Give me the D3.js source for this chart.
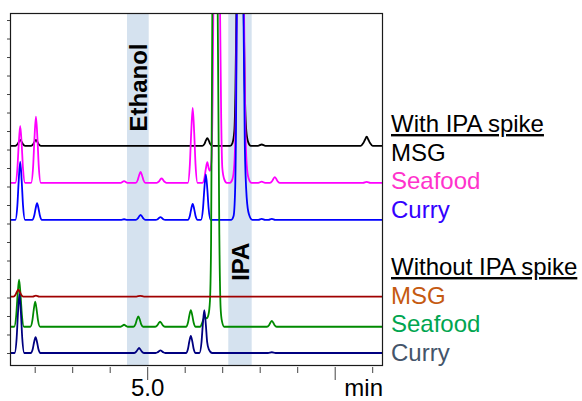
<!DOCTYPE html>
<html><head><meta charset="utf-8">
<script src="https://cdn.jsdelivr.net/npm/d3@7"></script>
<style>
html,body{margin:0;padding:0;background:#fff;}
svg{display:block;font-family:Arial,"Liberation Sans",sans-serif;}
</style></head>
<body>
<svg id="chart" width="582" height="401"></svg>
<script>
// ---------- DATA (time in min, signal in arbitrary units above each trace baseline) ----------
const groupTitles = ["With IPA spike", "Without IPA spike"];
const sampleNames = ["MSG", "Seafood", "Curry"];
const bandNames = ["Ethanol", "IPA"];
const bandRanges = [[4.448, 5.027], [7.149, 7.773]];
const xTickValues = [2, 3, 4, 5, 6, 7, 8, 9, 10, 11];
const xMajorTicks = [5, 10];
const xTickLabels = {5: "5.0"};
const xAxisTitle = "min";
const yTickValues = d3.range(0, 181, 10);
const traceOffsets = [112, 92, 72, 30.5, 14.2, 0];

const msgWith = [[1.33,0],
 [1.47,0],[1.525,0.8],[1.56,2.1],[1.60,3.2],[1.64,2.1],[1.675,0.8],[1.73,0],
 [1.89,0],[1.945,0.8],[1.98,2.1],[2.02,3.2],[2.06,2.1],[2.095,0.8],[2.15,0],
 [6.46,0],[6.515,1.05],[6.55,2.8],[6.59,4.2],[6.63,2.8],[6.665,1.05],[6.72,0],
 [7.20,0],[7.26,1.5],[7.31,8],[7.34,30],[7.365,72],[7.46,420],[7.56,72],[7.59,30],[7.63,8],[7.68,2],[7.75,0],
 [7.94,0],[8.04,0.7],[8.14,0],
 [10.68,0],[10.75,1.5],[10.795,3.3],[10.84,4.9],[10.885,3.3],[10.93,1.5],[11.0,0],[11.28,0]];

const seafoodWith = [[1.33,0],
 [1.47,0],[1.525,7.7],[1.56,20.6],[1.60,30.8],[1.64,20.6],[1.675,7.7],[1.73,0],
 [1.89,0],[1.945,8.9],[1.98,23.9],[2.02,35.7],[2.06,23.9],[2.095,8.9],[2.15,0],
 [4.28,0],[4.37,0.9],[4.46,0],
 [4.68,0],[4.735,1.5],[4.77,4],[4.81,5.9],[4.85,4],[4.885,1.5],[4.94,0],
 [5.24,0],[5.295,0.6],[5.33,1.6],[5.37,2.4],[5.41,1.6],[5.445,0.6],[5.50,0],
 [6.07,0],[6.125,10.1],[6.16,27.1],[6.20,40.5],[6.24,27.1],[6.275,10.1],[6.33,0],
 [6.46,0],[6.515,2.8],[6.55,7.5],[6.59,11.2],[6.63,7.5],[6.66,6.5],[6.70,12],[6.73,45],[6.75,92],[6.84,450],[6.93,92],[6.96,35],[6.99,8],[7.04,2],[7.11,0],
 [7.19,0],[7.26,2],[7.31,10],[7.35,40],[7.375,92],[7.46,450],[7.57,92],[7.60,35],[7.64,10],[7.69,2.5],[7.77,0],
 [7.95,0],[8.04,0.6],[8.13,0],
 [8.26,0],[8.315,0.8],[8.35,2.1],[8.39,3.1],[8.43,2.1],[8.465,0.8],[8.52,0],
 [10.74,0],[10.84,0.5],[10.94,0],[11.28,0]];

const curryWith = [[1.33,0],
 [1.47,0],[1.525,7.9],[1.56,21],[1.60,31.4],[1.64,21],[1.675,7.9],[1.73,0],
 [1.92,0],[1.975,2.3],[2.01,6],[2.05,9],[2.09,6],[2.125,2.3],[2.18,0],
 [4.28,0],[4.37,0.3],[4.46,0],
 [4.68,0],[4.735,0.7],[4.77,1.8],[4.81,2.7],[4.85,1.8],[4.885,0.7],[4.94,0],
 [5.21,0],[5.265,0.35],[5.30,0.95],[5.34,1.4],[5.38,0.95],[5.415,0.35],[5.47,0],
 [6.07,0],[6.125,2.2],[6.16,5.8],[6.20,8.6],[6.24,5.8],[6.275,2.2],[6.33,0],
 [6.42,0],[6.475,6.2],[6.51,16.5],[6.55,24.6],[6.59,16.5],[6.625,6.2],[6.68,0],
 [7.23,0],[7.29,2],[7.33,15],[7.355,50],[7.375,112],[7.46,450],[7.555,112],[7.59,40],[7.64,12],[7.70,3],[7.79,0],
 [7.95,0],[8.04,0.5],[8.13,0],[8.22,0],[8.31,0.5],[8.40,0],[11.28,0]];

const msgWithout = [[1.33,0],
 [1.42,0],[1.475,1],[1.51,2.5],[1.55,3.8],[1.59,2.5],[1.625,1],[1.68,0],
 [1.93,0],[2.02,0.5],[2.11,0],
 [4.70,0],[4.80,0.4],[4.90,0],[11.28,0]];

const seafoodWithout = [[1.33,0],
 [1.44,0],[1.495,6.4],[1.53,17],[1.57,25.4],[1.61,17],[1.645,6.4],[1.70,0],
 [1.87,0],[1.925,3.4],[1.96,9],[2.00,13.5],[2.04,9],[2.075,3.4],[2.13,0],
 [4.27,0],[4.33,0.6],[4.37,1.1],[4.41,0.6],[4.47,0],
 [4.62,0],[4.675,1.4],[4.71,3.75],[4.75,5.6],[4.79,3.75],[4.825,1.4],[4.88,0],
 [5.20,0],[5.255,0.7],[5.29,1.8],[5.33,2.7],[5.37,1.8],[5.405,0.7],[5.46,0],
 [6.02,0],[6.075,2.3],[6.11,6],[6.15,9],[6.19,6],[6.225,2.3],[6.28,0],
 [6.40,0],[6.46,2.5],[6.52,5.4],[6.57,4.5],[6.62,6.5],[6.66,14],[6.69,45],[6.723,170],[6.80,520],[6.867,170],[6.91,50],[6.945,10],[6.98,3],[7.04,0],
 [8.18,0],[8.235,0.8],[8.27,2.1],[8.31,3.2],[8.35,2.1],[8.385,0.8],[8.44,0],[11.28,0]];

const curryWithout = [[1.33,0],
 [1.45,0],[1.505,8],[1.54,21.4],[1.58,32],[1.62,21.4],[1.655,8],[1.71,0],
 [1.88,0],[1.935,2.2],[1.97,5.8],[2.01,8.6],[2.05,5.8],[2.085,2.2],[2.14,0],
 [4.64,0],[4.695,0.7],[4.73,1.8],[4.77,2.7],[4.81,1.8],[4.845,0.7],[4.90,0],
 [5.21,0],[5.265,0.35],[5.30,0.95],[5.34,1.4],[5.38,0.95],[5.415,0.35],[5.47,0],
 [6.02,0],[6.075,2.3],[6.11,6.2],[6.15,9.2],[6.19,6.2],[6.225,2.3],[6.28,0],
 [6.38,0],[6.435,5.8],[6.47,15.5],[6.51,23.2],[6.55,15.5],[6.585,6],[6.63,2],[6.72,0],
 [8.21,0],[8.31,0.4],[8.41,0],[11.28,0]];

const traces = [msgWith, seafoodWith, curryWith, msgWithout, seafoodWithout, curryWithout];

// ---------- STYLES ----------
const lineColors = ["#000000", "#ff00ff", "#0000ff", "#a00000", "#008a00", "#000080"];
const labelColors = ["#000000", "#ff33cc", "#3300ff", "#c55a11", "#00a550", "#44546a"];
const drawOrder = [0, 1, 2, 4, 3, 5];
const bandLabelY = [87.5, 261.7];

// ---------- LAYOUT ----------
const plot = {left: 10, right: 383, top: 13, bottom: 366};
const svg = d3.select("#chart");
const x = d3.scaleLinear().domain([1.328, 11.275]).range([plot.left, plot.right]);
const y = d3.scaleLinear().domain([-7.03, 183.8]).range([plot.bottom, plot.top]);

svg.append("defs").append("clipPath").attr("id", "clip")
  .append("rect").attr("x", plot.left).attr("y", plot.top)
  .attr("width", plot.right - plot.left).attr("height", plot.bottom - plot.top);

// bands
svg.append("g").selectAll("rect").data(bandRanges).join("rect")
  .attr("x", d => x(d[0])).attr("width", d => x(d[1]) - x(d[0]))
  .attr("y", plot.top).attr("height", plot.bottom - plot.top)
  .attr("fill", "#d5e2ef");

// traces
const line = d3.line().curve(d3.curveMonotoneX);
const gT = svg.append("g").attr("clip-path", "url(#clip)");
drawOrder.forEach(i => {
  const off = traceOffsets[i];
  gT.append("path")
    .attr("d", line(traces[i].map(p => [x(p[0]), y(p[1] + off)])))
    .attr("fill", "none").attr("stroke", lineColors[i])
    .attr("stroke-width", 1.8).attr("stroke-linejoin", "round");
});

// band labels
svg.append("g").selectAll("text").data(bandNames).join("text")
  .attr("transform", (d, i) => `translate(${x((bandRanges[i][0] + bandRanges[i][1]) / 2) + 9},${bandLabelY[i]}) rotate(-90)`)
  .attr("text-anchor", "middle")
  .attr("font-size", 24).attr("font-weight", "bold").attr("fill", "#000")
  .text(d => d);

// axes
const yAxis = d3.axisLeft(y).tickValues(yTickValues).tickSize(3).tickFormat("");
const gy = svg.append("g").attr("transform", `translate(${plot.left},0)`).call(yAxis);
gy.select(".domain").remove();
gy.selectAll(".tick line").attr("stroke", "#444");

const gx = svg.append("g").attr("transform", `translate(0,${plot.bottom})`);
gx.selectAll("line").data(xTickValues).join("line")
  .attr("x1", d => x(d)).attr("x2", d => x(d))
  .attr("y1", 1).attr("y2", d => xMajorTicks.includes(d) ? 14 : 7)
  .attr("stroke", "#444").attr("stroke-width", 1);
gx.selectAll("text.tl").data(xTickValues.filter(d => xTickLabels[d])).join("text")
  .attr("class", "tl").attr("x", d => x(d)).attr("y", 30)
  .attr("text-anchor", "middle").attr("font-size", 24).attr("fill", "#000")
  .text(d => xTickLabels[d]);
gx.append("text").attr("x", plot.right).attr("y", 30).attr("text-anchor", "end")
  .attr("font-size", 24).attr("fill", "#000").text(xAxisTitle);

// frame
svg.append("rect").attr("x", plot.left + 0.5).attr("y", plot.top + 0.5)
  .attr("width", plot.right - plot.left - 1).attr("height", plot.bottom - plot.top - 1)
  .attr("fill", "none").attr("stroke", "#1a1a1a").attr("stroke-width", 1.2);

// legend
const legendRows = [];
groupTitles.forEach((g, gi) => {
  legendRows.push({text: g, color: "#000", title: true, group: gi, row: 0});
  sampleNames.forEach((s, si) => legendRows.push({text: s, color: labelColors[gi * 3 + si], title: false, group: gi, row: si + 1}));
});
const legendTop = [132, 275];
svg.append("g").selectAll("text").data(legendRows).join("text")
  .attr("x", 391).attr("y", d => legendTop[d.group] + d.row * 28.6)
  .attr("font-size", 24).attr("fill", d => d.color)
  .attr("text-decoration", d => d.title ? "underline" : null)
  .text(d => d.text);
</script>
</body></html>
